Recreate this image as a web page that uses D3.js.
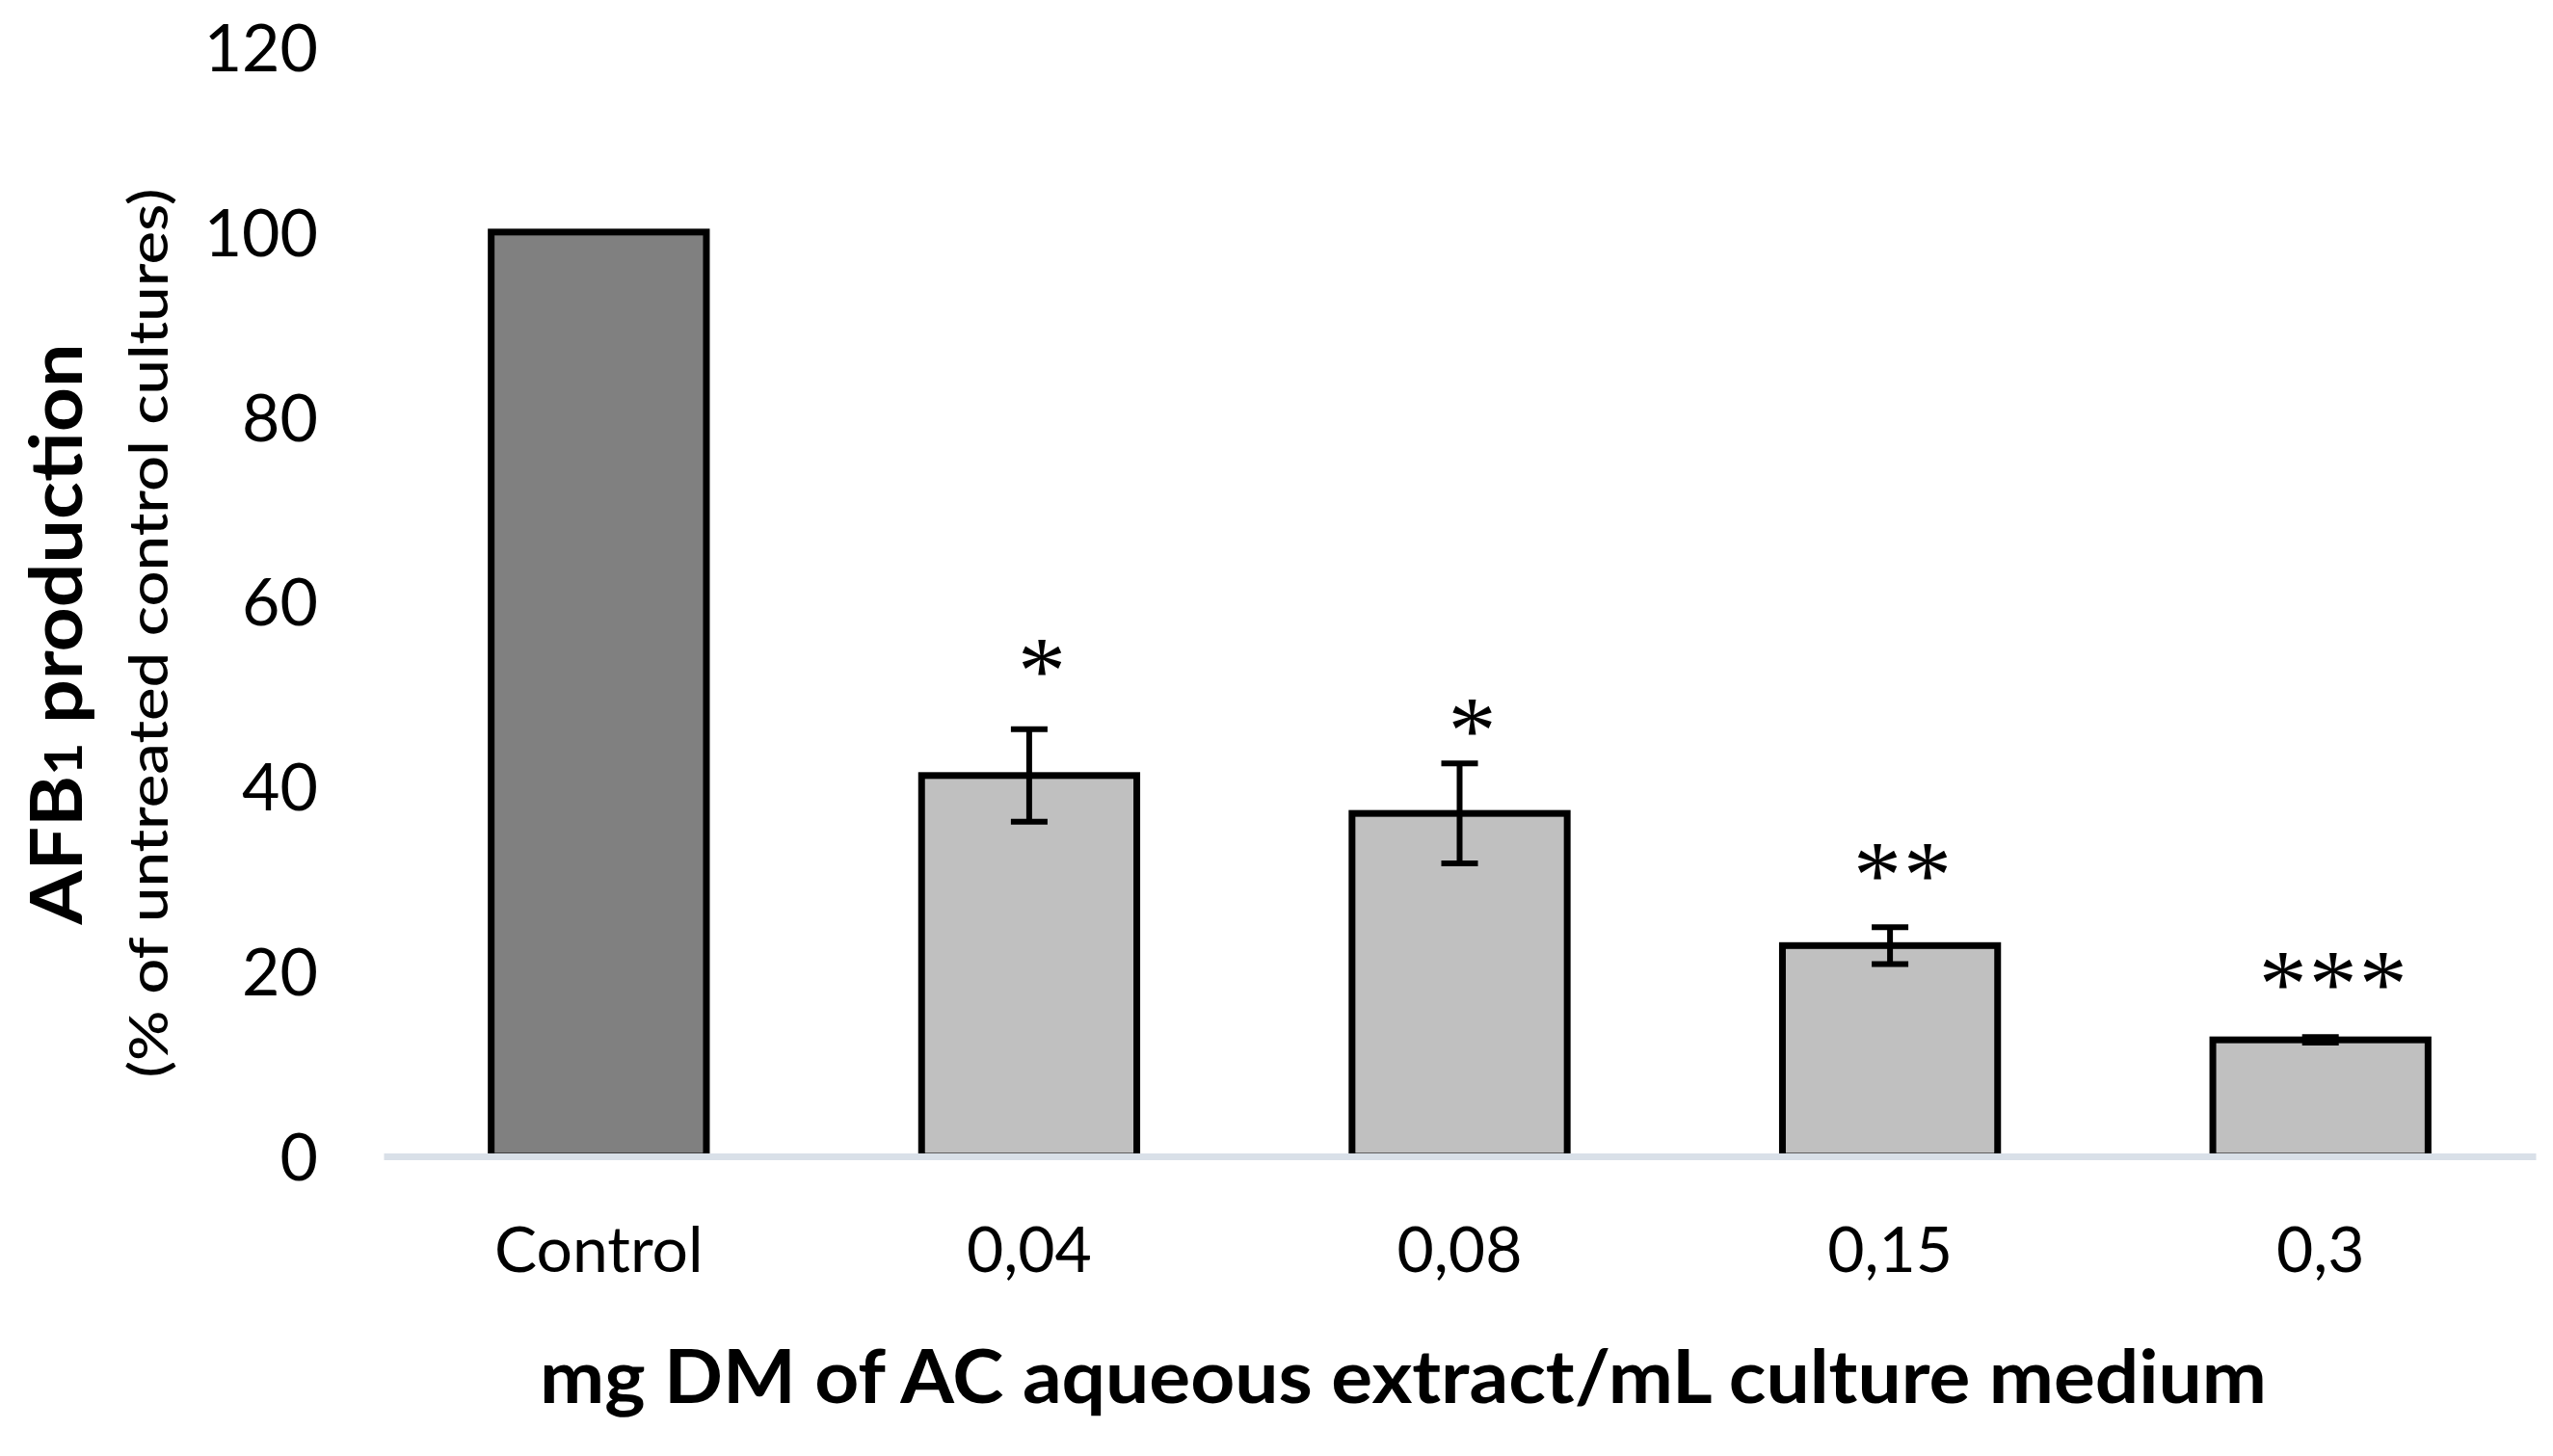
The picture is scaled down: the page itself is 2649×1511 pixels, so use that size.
<!DOCTYPE html>
<html>
<head>
<meta charset="utf-8">
<script src="https://cdn.jsdelivr.net/npm/d3@7"></script>
<style>
  html, body { margin: 0; padding: 0; background: #ffffff; }
  svg { display: block; }
</style>
</head>
<body>
<svg id="chart" width="2649" height="1511"></svg>
<script>
// ---- data ----
const categories = ["Control", "0,04", "0,08", "0,15", "0,3"];
const values     = [100, 41.2, 37.1, 22.8, 12.6];
const errors     = [0, 5.0, 5.4, 2.0, 0.3];
const signif     = ["", "*", "*", "**", "***"];
const signifY    = [null, 53.9, 47.4, 31.8, 20.0];   // level (in % units) of asterisk centre
const yTicks     = [0, 20, 40, 60, 80, 100, 120];
const yTitle     = "AFB";
const yTitleSub1 = "1";
const yTitleRest = " production";
const ySubtitle  = "(% of untreated control cultures)";
const xTitle     = "mg DM of AC aqueous extract/mL culture medium";

// ---- layout ----
const W = 2649, H = 1511;
const plot = { left: 398, right: 2631, top: 49, bottom: 1200 };
const svg = d3.select("#chart");
svg.append("rect").attr("width", W).attr("height", H).attr("fill", "#ffffff");

const x = d3.scaleBand().domain(categories).range([plot.left, plot.right])
  .paddingInner(0.5).paddingOuter(0.25);
const y = d3.scaleLinear().domain([0, 120]).range([plot.bottom, plot.top]);

const data = categories.map((c, i) => ({ c, v: values[i], e: errors[i], s: signif[i], sy: signifY[i], i }));

// bars
svg.append("g").selectAll("rect").data(data).join("rect")
  .attr("x", d => x(d.c))
  .attr("y", d => y(d.v))
  .attr("width", x.bandwidth())
  .attr("height", d => y(0) - y(d.v))
  .attr("fill", d => d.i === 0 ? "#808080" : "#c0c0c0")
  .attr("stroke", "#000000")
  .attr("stroke-width", 7);

// error bars
const eb = svg.append("g").attr("stroke", "#000").attr("stroke-width", 6);
const capW = 38;
data.filter(d => d.e > 0).forEach(d => {
  const cx = x(d.c) + x.bandwidth() / 2;
  eb.append("line").attr("x1", cx).attr("x2", cx).attr("y1", y(d.v + d.e)).attr("y2", y(d.v - d.e));
  eb.append("line").attr("x1", cx - capW / 2).attr("x2", cx + capW / 2).attr("y1", y(d.v + d.e)).attr("y2", y(d.v + d.e));
  eb.append("line").attr("x1", cx - capW / 2).attr("x2", cx + capW / 2).attr("y1", y(d.v - d.e)).attr("y2", y(d.v - d.e));
});

// significance asterisks
const starSize = 100;
svg.append("g").selectAll("text").data(data.filter(d => d.s)).join("text")
  .attr("x", d => x(d.c) + x.bandwidth() / 2 + 14)
  .attr("y", d => y(d.sy) + 0.46 * starSize)
  .attr("text-anchor", "middle")
  .attr("font-family", "'Liberation Serif', 'Times New Roman', serif")
  .attr("font-size", starSize)
  .attr("letter-spacing", 2)
  .attr("fill", "#000")
  .text(d => d.s);

// x axis
const xAxis = svg.append("g").attr("transform", `translate(0,${plot.bottom})`)
  .call(d3.axisBottom(x).tickSize(0).tickSizeOuter(0));
xAxis.select(".domain").attr("stroke", "#d9e0e8").attr("stroke-width", 7);
xAxis.selectAll(".tick text")
  .attr("y", 120).attr("dy", 0)
  .attr("font-family", "Lato, 'Open Sans', sans-serif")
  .attr("font-size", 66)
  .attr("fill", "#000");

// y axis
const yAxis = svg.append("g").attr("transform", `translate(${plot.left},0)`)
  .call(d3.axisLeft(y).tickValues(yTicks).tickSize(0));
yAxis.select(".domain").remove();
yAxis.selectAll(".tick text")
  .attr("x", -68).attr("dy", "0.36em")
  .attr("font-family", "Lato, 'Open Sans', sans-serif")
  .attr("font-size", 68)
  .attr("fill", "#000");

// x title
svg.append("text")
  .attr("x", 1456).attr("y", 1456)
  .attr("text-anchor", "middle")
  .attr("font-family", "Lato, 'Open Sans', sans-serif")
  .attr("font-weight", "bold")
  .attr("font-size", 76)
  .attr("textLength", 1792)
  .attr("lengthAdjust", "spacingAndGlyphs")
  .attr("fill", "#000")
  .text(xTitle);

// y title (rotated)
const yt = svg.append("text")
  .attr("transform", "translate(85,658) rotate(-90)")
  .attr("text-anchor", "middle")
  .attr("font-family", "Lato, 'Open Sans', sans-serif")
  .attr("font-weight", "bold")
  .attr("font-size", 74)
  .attr("textLength", 603)
  .attr("lengthAdjust", "spacingAndGlyphs")
  .attr("fill", "#000");
yt.append("tspan").text(yTitle);
yt.append("tspan").attr("font-size", 54).text(yTitleSub1);
yt.append("tspan").text(yTitleRest);

svg.append("text")
  .attr("transform", "translate(174,657) rotate(-90)")
  .attr("text-anchor", "middle")
  .attr("font-family", "Lato, 'Open Sans', sans-serif")
  .attr("font-size", 55)
  .attr("font-weight", 500)
  .attr("textLength", 923)
  .attr("lengthAdjust", "spacingAndGlyphs")
  .attr("fill", "#000")
  .text(ySubtitle);
</script>
</body>
</html>
